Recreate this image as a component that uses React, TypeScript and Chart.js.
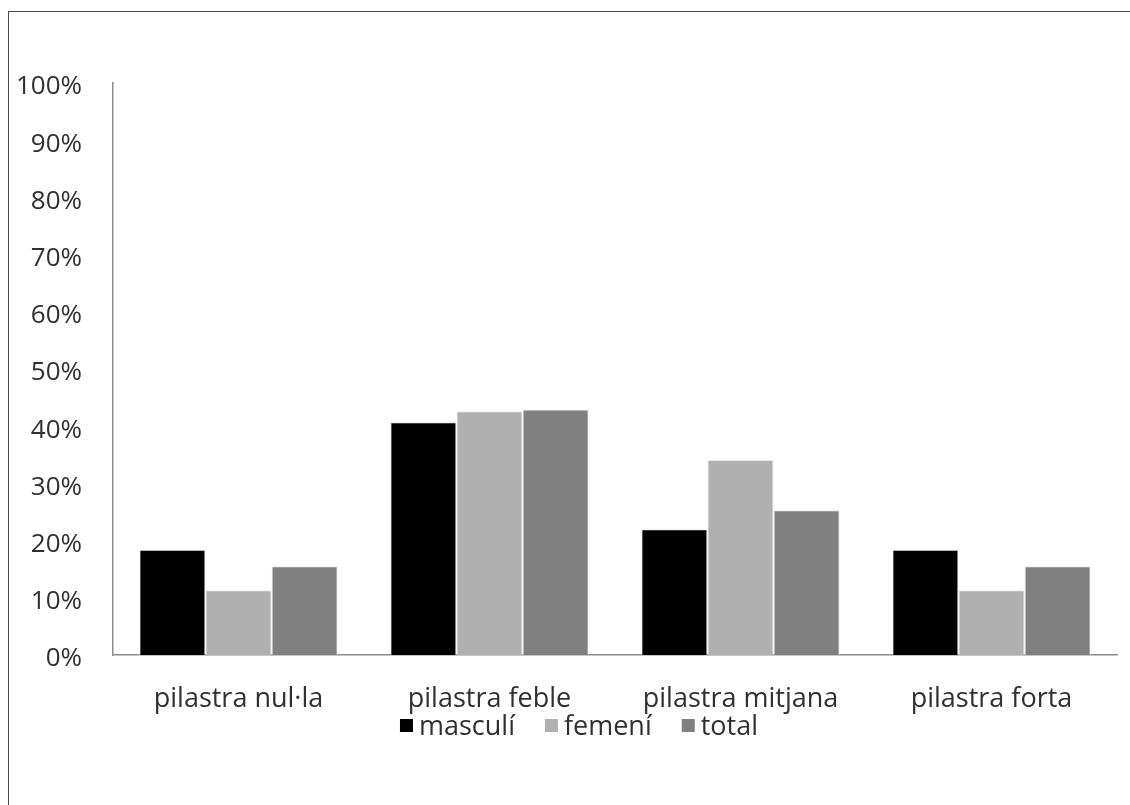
import React, { useEffect, useRef } from "react";
import { Chart, registerables } from "chart.js";

Chart.register(...registerables);

const categories = ["pilastra nul·la", "pilastra feble", "pilastra mitjana", "pilastra forta"];
const masculi = [18.4, 40.7, 22.0, 18.4];
const femeni = [11.3, 42.6, 34.1, 11.3];
const total = [15.5, 42.9, 25.3, 15.5];
const seriesNames = ["masculí", "femení", "total"];
const seriesColors = ["#000000", "#b0b0b0", "#808080"];

const FONT = "'Open Sans', 'DejaVu Sans', sans-serif";
const TEXT = "#303030";

// Legend drawn under the category labels with tight swatch/text spacing
const bottomLegend = {
  id: "bottomLegend",
  afterDraw(chart: any) {
    const { ctx, chartArea } = chart;
    const size = 27;
    const box = 13;
    const gap = 6;
    const spacing = 30;
    ctx.save();
    ctx.font = `${size}px ${FONT}`;
    const items = chart.data.datasets.map((ds: any) => ({
      label: ds.label,
      color: ds.backgroundColor,
      w: box + gap + ctx.measureText(ds.label).width,
    }));
    const totalW = items.reduce((s: number, it: any) => s + it.w, 0) + spacing * (items.length - 1);
    const centerX = chartArea.left + 466;
    const baseline = chartArea.bottom + 80;
    let x = centerX - totalW / 2;
    ctx.textBaseline = "alphabetic";
    ctx.textAlign = "left";
    for (const it of items) {
      ctx.fillStyle = it.color;
      ctx.fillRect(x, baseline - 16, box, box);
      ctx.fillStyle = TEXT;
      ctx.fillText(it.label, x + box + gap, baseline);
      x += it.w + spacing;
    }
    ctx.restore();
  },
};

export default function App() {
  const canvasRef = useRef<HTMLCanvasElement | null>(null);

  useEffect(() => {
    if (!canvasRef.current) return;
    const data = [masculi, femeni, total];
    const chart = new Chart(canvasRef.current, {
      type: "bar",
      data: {
        labels: categories,
        datasets: seriesNames.map((name, i) => ({
          label: name,
          data: data[i],
          backgroundColor: seriesColors[i],
          borderColor: "#ececec",
          borderWidth: 1,
          categoryPercentage: 0.79,
          barPercentage: 1,
        })),
      },
      options: {
        animation: false,
        responsive: false,
        maintainAspectRatio: false,
        layout: { padding: { top: 83, right: 13, bottom: 90, left: 0 } },
        plugins: {
          legend: { display: false },
          tooltip: { enabled: false },
          title: { display: false },
        },
        scales: {
          x: {
            grid: { display: false, drawTicks: false },
            border: { display: true, color: "#8c8c8c", width: 1.5 },
            ticks: {
              padding: 28,
              color: TEXT,
              font: { family: FONT, size: 27 },
              maxRotation: 0,
              autoSkip: false,
            },
            afterFit: (s: any) => {
              s.height = 60;
            },
          },
          y: {
            min: 0,
            max: 100,
            grid: { display: false, drawTicks: false },
            border: { display: true, color: "#8c8c8c", width: 1.5 },
            ticks: {
              stepSize: 10,
              padding: 31,
              labelOffset: 4,
              color: TEXT,
              font: { family: FONT, size: 26 },
              callback: (v: any) => `${v}%`,
            },
            afterFit: (s: any) => {
              s.width = 113;
            },
          },
        },
      },
      plugins: [bottomLegend],
    });
    return () => chart.destroy();
  }, []);

  return (
    <div style={{ position: "fixed", left: 0, top: 0, width: 1130, height: 805, background: "#fff", overflow: "hidden" }}>
      <div
        style={{
          position: "absolute",
          left: 8,
          top: 11,
          width: 1200,
          height: 900,
          borderLeft: "1.5px solid #4a4a4a",
          borderTop: "1.5px solid #4a4a4a",
        }}
      />
      <canvas ref={canvasRef} width={1130} height={805} style={{ position: "absolute", left: 0, top: 0 }} />
    </div>
  );
}
